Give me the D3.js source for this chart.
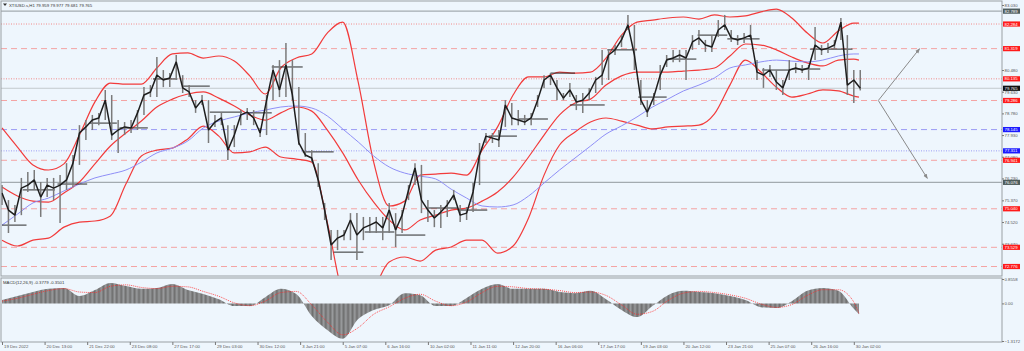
<!DOCTYPE html>
<html>
<head>
<meta charset="utf-8">
<script src="https://d3js.org/d3.v7.min.js"></script>
<style>
  body { margin: 0; background: #eef6fd; }
  text { font-family: "Liberation Sans", "DejaVu Sans", sans-serif; }
</style>
</head>
<body>
<div id="chart"></div>
<script>
// ---------- data (prices) ----------
var title = "XTIUSD.s,H1  79.959 79.977 79.681 79.765";
var macdTitle = "MACD(12,26,9) -0.3779 -0.3501";

// x axis labels, one every 33 hourly bars
var timeLabels = ["19 Dec 2022", "20 Dec 13:00", "21 Dec 22:00", "23 Dec 08:00", "27 Dec 17:00",
  "29 Dec 03:00", "30 Dec 12:00", "3 Jan 21:00", "5 Jan 07:00", "6 Jan 16:00", "10 Jan 02:00",
  "11 Jan 11:00", "12 Jan 20:00", "16 Jan 06:00", "17 Jan 17:00", "19 Jan 03:00", "20 Jan 12:00",
  "23 Jan 21:00", "25 Jan 07:00", "26 Jan 16:00", "30 Jan 02:00"];
var labelEvery = 33;

// price samples, one every 5 hourly bars
var priceStep = 5;
var closes = [75.66, 74.99, 74.79, 75.85, 75.97, 76.17, 75.50, 75.97, 75.85, 75.97,
  76.17, 76.83, 78.01, 78.25, 78.52, 78.60, 79.30, 77.93, 78.13, 78.25,
  78.21, 78.80, 79.50, 79.62, 80.28, 80.09, 80.17, 80.80, 79.78, 79.62,
  78.99, 79.30, 78.13, 78.44, 78.60, 77.34, 77.93, 78.72, 78.83, 78.60,
  78.01, 79.30, 80.48, 79.70, 80.68, 79.50, 77.62, 77.15, 77.03, 76.17,
  74.99, 73.62, 73.89, 74.01, 74.60, 74.01, 74.29, 74.40, 74.52, 74.29,
  74.99, 74.21, 74.79, 75.78, 76.64, 75.38, 74.99, 74.68, 74.91, 75.19,
  75.58, 74.79, 74.87, 75.70, 77.15, 77.89, 77.81, 77.74, 79.11, 78.60,
  78.52, 78.44, 78.60, 79.30, 80.09, 80.28, 79.78, 79.38, 79.70, 79.23,
  79.30, 79.58, 80.09, 80.28, 81.07, 81.27, 81.66, 82.25, 81.07, 79.30,
  78.83, 79.42, 80.28, 80.87, 80.95, 81.07, 80.95, 81.58, 81.74, 81.46,
  81.38, 82.05, 82.25, 81.74, 81.66, 81.74, 81.85, 80.40, 80.28, 80.48,
  80.01, 79.78, 80.48, 80.56, 80.48, 80.56, 81.46, 81.27, 81.34, 81.46,
  82.36, 79.89, 80.09, 79.765];
var highs = [75.97, 75.38, 75.19, 76.25, 76.48, 76.56, 76.09, 76.25, 76.25, 76.36,
  76.83, 77.15, 78.32, 78.52, 78.72, 78.80, 79.70, 79.50, 78.52, 78.44,
  78.52, 78.91, 79.81, 79.89, 80.99, 80.48, 80.36, 81.07, 80.28, 79.89,
  79.30, 79.50, 79.30, 78.72, 78.83, 78.32, 78.32, 78.91, 78.99, 78.91,
  78.21, 79.50, 80.68, 80.87, 81.54, 80.87, 79.81, 78.01, 77.34, 76.83,
  75.27, 74.21, 74.21, 74.21, 74.87, 74.87, 74.72, 74.72, 74.72, 74.72,
  75.27, 74.87, 74.99, 75.97, 76.83, 76.76, 75.38, 74.99, 75.19, 75.38,
  75.78, 75.19, 75.11, 76.05, 77.62, 78.01, 78.01, 78.13, 79.30, 79.19,
  78.91, 78.72, 78.80, 79.50, 80.28, 80.36, 80.09, 79.58, 79.97, 79.50,
  79.58, 79.78, 80.21, 81.27, 81.27, 81.46, 81.85, 82.64, 82.25, 80.09,
  79.30, 79.58, 80.68, 81.07, 81.27, 81.27, 81.27, 81.85, 82.05, 81.66,
  81.85, 82.44, 82.64, 82.05, 81.85, 81.93, 82.25, 80.87, 80.56, 80.68,
  80.48, 80.09, 80.87, 80.76, 80.68, 80.68, 82.17, 81.46, 81.54, 81.66,
  82.52, 81.85, 80.48, 80.48];
var lows = [75.19, 74.09, 74.52, 74.79, 75.70, 75.78, 74.72, 75.50, 75.38, 74.48,
  75.78, 75.89, 76.76, 77.74, 78.13, 78.32, 78.52, 77.74, 77.23, 77.93,
  78.01, 78.13, 78.72, 79.42, 79.42, 79.81, 79.81, 80.09, 79.58, 79.42,
  78.80, 79.11, 77.62, 78.25, 78.32, 76.95, 77.46, 78.32, 78.52, 78.32,
  77.85, 77.93, 79.30, 79.42, 79.42, 79.30, 77.54, 77.07, 76.87, 75.89,
  74.60, 73.03, 73.42, 73.81, 73.81, 73.03, 73.81, 74.09, 74.09, 73.81,
  74.09, 73.54, 74.09, 75.38, 75.97, 74.87, 74.52, 74.32, 74.29, 74.72,
  75.38, 74.52, 74.60, 74.91, 75.97, 77.62, 77.62, 77.46, 78.25, 78.32,
  78.32, 78.32, 78.32, 79.03, 79.78, 79.89, 79.30, 79.30, 79.42, 78.91,
  78.80, 79.30, 79.58, 79.89, 80.09, 81.07, 81.38, 82.05, 80.48, 79.11,
  78.64, 79.11, 79.70, 80.60, 80.79, 80.79, 80.09, 81.27, 81.46, 81.19,
  81.19, 81.78, 82.05, 81.58, 81.46, 81.54, 81.66, 80.09, 79.78, 80.21,
  79.70, 79.50, 80.09, 80.36, 80.36, 80.09, 80.87, 81.07, 81.15, 81.27,
  81.66, 79.50, 79.19, 79.68];

// Bollinger bands and slow MA, one sample every 12 bars, last at bar 664
var bandIdx = d3.range(0, 661, 12).concat([664]);
var upperBand = [78.21, 77.46, 76.76, 76.56, 76.80, 77.93, 79.23, 79.97, 79.93, 79.93,
  80.56, 81.11, 81.15, 80.95, 81.03, 80.83, 80.25, 79.54, 80.56, 80.95,
  81.11, 81.93, 82.36, 80.01, 76.87, 75.15, 75.34, 76.36, 76.40, 76.44,
  76.36, 77.34, 78.25, 79.50, 80.21, 80.21, 80.40, 80.36, 80.40, 80.95,
  81.85, 82.36, 82.44, 82.52, 82.56, 82.48, 82.64, 82.56, 82.60, 82.76,
  82.87, 82.52, 81.93, 81.54, 82.01, 82.32, 82.32];
var middleBand = [75.89, 75.54, 75.34, 75.30, 75.66, 76.09, 76.80, 77.50, 78.01, 78.48,
  79.03, 79.34, 79.54, 79.62, 79.38, 79.07, 78.72, 78.52, 78.80, 79.03,
  78.87, 78.13, 77.23, 76.17, 75.30, 74.60, 74.21, 74.60, 74.79, 74.99,
  75.07, 75.34, 75.70, 76.28, 77.07, 77.93, 78.72, 79.19, 79.34, 79.89,
  80.25, 80.40, 80.40, 80.40, 80.44, 80.48, 80.56, 81.03, 81.50, 81.46,
  81.27, 80.99, 80.76, 80.64, 80.87, 80.91, 80.87];
var lowerBand = [73.81, 73.58, 73.81, 73.89, 74.32, 74.52, 74.56, 74.76, 76.01, 77.11,
  77.34, 77.42, 77.78, 78.28, 77.89, 77.23, 77.27, 77.46, 77.07, 76.99,
  76.87, 74.52, 71.66, 70.68, 71.85, 72.95, 73.15, 72.99, 73.42, 73.54,
  73.81, 73.81, 73.30, 73.58, 74.68, 76.36, 77.54, 78.05, 78.44, 78.60,
  78.48, 78.32, 78.17, 78.25, 78.28, 78.32, 78.76, 79.89, 80.87, 80.40,
  79.81, 79.42, 79.54, 79.70, 79.66, 79.46, 79.42];
var slowMA = [74.40, 74.83, 75.27, 75.46, 75.74, 76.01, 76.25, 76.40, 76.56, 76.87,
  77.23, 77.42, 77.70, 78.21, 78.48, 78.64, 78.80, 78.91, 79.03, 79.07,
  78.99, 78.68, 78.17, 77.66, 77.11, 76.68, 76.44, 76.32, 76.21, 75.81,
  75.46, 75.15, 75.11, 75.19, 75.54, 76.05, 76.56, 77.03, 77.50, 77.97,
  78.29, 78.64, 79.03, 79.34, 79.66, 79.89, 80.17, 80.56, 80.68, 80.80,
  80.87, 80.83, 80.80, 80.87, 81.03, 81.11, 81.11];

// daily level segments: from bar, to bar, price
var levelFrom = [0, 16, 43, 68, 91, 117, 140, 161, 190, 209, 233, 257, 281, 305,
  329, 353, 377, 400, 425, 440, 469, 493, 515, 539, 562, 589, 612, 626];
var levelTo = [19, 41, 66, 89, 113, 136, 161, 186, 209, 233, 257, 280, 304, 328,
  353, 376, 399, 423, 444, 467, 492, 515, 538, 562, 587, 611, 634, 659];
var levelPrice = [74.40, 75.78, 76.01, 78.40, 78.21, 80.13, 79.85, 78.83, 78.80, 80.60,
  77.27, 73.34, 74.13, 74.01, 75.07, 74.99, 77.89, 78.56, 80.36, 79.11,
  81.27, 79.42, 80.91, 81.85, 81.70, 80.48, 80.52, 81.30];

// horizontal lines and their kind
var linePrices = [82.789, 82.284, 81.319, 80.135, 79.765, 79.286, 78.145, 77.311,
  76.941, 76.076, 75.040, 73.529, 72.776];
var lineKinds = ["grey", "redDot", "redDash", "redDot", "price", "redDash", "blueDash",
  "blueDot", "redDash", "grey", "redDash", "redDash", "redDash"];

var priceTicks = [83.030, 80.480, 79.630, 78.780, 77.930, 77.080, 76.230, 75.370, 74.520, 73.670];

// forecast arrows: start bar/price, end bar/price
var arrowFrom = [679, 79.286];
var arrowTo = [[711, 81.319], [717, 76.23]];

// MACD histogram and signal, one sample every 12 bars (same bars as bandIdx)
var macdHist = [0.12, 0.26, 0.40, 0.51, 0.54, 0.26, 0.47, 0.72, 0.61, 0.51,
  0.54, 0.68, 0.47, 0.33, 0.15, -0.09, -0.09, 0.22, 0.51, 0.33,
  -0.44, -0.93, -1.24, -0.55, -0.23, -0.06, 0.36, 0.29, -0.09, -0.09,
  0.19, 0.51, 0.68, 0.51, 0.51, 0.51, 0.40, 0.36, 0.44, 0.15,
  -0.23, -0.48, -0.09, 0.29, 0.44, 0.40, 0.36, 0.26, 0.12, -0.13,
  -0.16, 0.08, 0.44, 0.54, 0.44, -0.19, -0.38];
var macdSignal = [0.08, 0.18, 0.32, 0.45, 0.52, 0.40, 0.38, 0.60, 0.65, 0.56,
  0.52, 0.60, 0.58, 0.42, 0.25, 0.02, -0.08, 0.08, 0.38, 0.42,
  -0.05, -0.65, -1.10, -0.85, -0.38, -0.12, 0.18, 0.32, 0.08, -0.08,
  0.05, 0.38, 0.60, 0.58, 0.52, 0.50, 0.45, 0.38, 0.40, 0.28,
  -0.05, -0.38, -0.28, 0.10, 0.36, 0.42, 0.38, 0.30, 0.18, -0.02,
  -0.14, -0.04, 0.28, 0.48, 0.48, 0.05, -0.35];
var macdTicks = [0.8558, 0.00, -1.3172];

// ---------- layout ----------
var W = 1024, H = 351;
var plotRight = 1002, mainTop = 1, mainBottom = 276, macdTop = 278, macdBottom = 342;

var svg = d3.select("#chart").append("svg").attr("width", W).attr("height", H);
svg.append("rect").attr("width", W).attr("height", H).attr("fill", "#eef6fd");

var x = d3.scaleLinear().domain([0, 660]).range([2, 853.8]);
var y = d3.scaleLinear().domain([72.82, 83.03]).range([265.4, 5]);
var ym = d3.scaleLinear().domain([-1.3172, 0.8558]).range([341, 279]);

var defs = svg.append("defs");
defs.append("clipPath").attr("id", "clipMain").append("rect")
  .attr("x", 1).attr("y", mainTop).attr("width", plotRight - 1).attr("height", mainBottom - mainTop);
defs.append("clipPath").attr("id", "clipMacd").append("rect")
  .attr("x", 1).attr("y", macdTop).attr("width", plotRight - 1).attr("height", macdBottom - macdTop);
defs.append("marker").attr("id", "arrowHead").attr("viewBox", "0 0 10 10")
  .attr("refX", 9).attr("refY", 5).attr("markerWidth", 5).attr("markerHeight", 5)
  .attr("orient", "auto").append("path").attr("d", "M0,1L10,5L0,9Z").attr("fill", "#8a8a8a");
var hatch = defs.append("pattern").attr("id", "hatch").attr("patternUnits", "userSpaceOnUse")
  .attr("width", 1.29).attr("height", 4);
hatch.append("rect").attr("width", 1.29).attr("height", 4).attr("fill", "#b4b8bc");
hatch.append("rect").attr("width", 0.9).attr("height", 4).attr("fill", "#6f6f6f");

var main = svg.append("g").attr("clip-path", "url(#clipMain)");

// horizontal lines
var lineStyle = {
  grey: { stroke: "#a3abb0", width: 1.3, dash: null },
  price: { stroke: "#b9bec2", width: 0.8, dash: null },
  redDot: { stroke: "#f28a8a", width: 1, dash: "1,1.5" },
  redDash: { stroke: "#f4a3a3", width: 1, dash: "6,4" },
  blueDash: { stroke: "#9b9bf5", width: 1, dash: "6,4" },
  blueDot: { stroke: "#9b9bf5", width: 1, dash: "1,1.5" }
};
main.selectAll(".hline").data(linePrices).enter().append("line")
  .attr("x1", 1).attr("x2", plotRight)
  .attr("y1", function (d) { return y(d); })
  .attr("y2", function (d) { return y(d); })
  .attr("stroke", function (d, i) { return lineStyle[lineKinds[i]].stroke; })
  .attr("stroke-width", function (d, i) { return lineStyle[lineKinds[i]].width; })
  .attr("stroke-dasharray", function (d, i) { return lineStyle[lineKinds[i]].dash; });

// bands
var bandLine = d3.line()
  .x(function (d, i) { return x(bandIdx[i]); })
  .y(function (d) { return y(d); })
  .curve(d3.curveMonotoneX);
[upperBand, middleBand, lowerBand].forEach(function (b) {
  main.append("path").attr("d", bandLine(b)).attr("fill", "none")
    .attr("stroke", "#f23b3b").attr("stroke-width", 1.2);
});
main.append("path").attr("d", bandLine(slowMA)).attr("fill", "none")
  .attr("stroke", "#8f8ff7").attr("stroke-width", 1);

// daily levels
main.selectAll(".level").data(levelPrice).enter().append("line")
  .attr("x1", function (d, i) { return x(levelFrom[i]); })
  .attr("x2", function (d, i) { return x(levelTo[i]); })
  .attr("y1", function (d) { return y(d); })
  .attr("y2", function (d) { return y(d); })
  .attr("stroke", "#2b2b2b").attr("stroke-width", 1);

// price bars
main.selectAll(".wick").data(closes).enter().append("line")
  .attr("x1", function (d, i) { return x(i * priceStep); })
  .attr("x2", function (d, i) { return x(i * priceStep); })
  .attr("y1", function (d, i) { return y(highs[i]); })
  .attr("y2", function (d, i) { return y(lows[i]); })
  .attr("stroke", "#7a7a7a").attr("stroke-width", 1.5);
var closeLine = d3.line()
  .x(function (d, i) { return x(i * priceStep); })
  .y(function (d) { return y(d); });
main.append("path").attr("d", closeLine(closes)).attr("fill", "none")
  .attr("stroke", "#1e1e1e").attr("stroke-width", 1.5).attr("stroke-linejoin", "bevel");

// forecast arrows
arrowTo.forEach(function (t) {
  main.append("line")
    .attr("x1", x(arrowFrom[0])).attr("y1", y(arrowFrom[1]))
    .attr("x2", x(t[0])).attr("y2", y(t[1]))
    .attr("stroke", "#8a8a8a").attr("stroke-width", 1)
    .attr("marker-end", "url(#arrowHead)");
});

// panel borders
svg.append("rect").attr("x", 1).attr("y", mainTop).attr("width", plotRight - 1)
  .attr("height", mainBottom - mainTop).attr("fill", "none").attr("stroke", "#9aa0a4");
svg.append("rect").attr("x", 1).attr("y", macdTop).attr("width", plotRight - 1)
  .attr("height", macdBottom - macdTop).attr("fill", "none").attr("stroke", "#9aa0a4");

// price axis
var yAxis = svg.append("g").attr("transform", "translate(" + plotRight + ",0)")
  .call(d3.axisRight(y).tickValues(priceTicks).tickSize(2).tickFormat(d3.format(".3f")));
yAxis.select(".domain").remove();
yAxis.selectAll("text").attr("font-size", 4.3).attr("fill", "#555").attr("x", 2.5);
yAxis.selectAll("line").attr("stroke", "#777");

// coloured price labels
var labelFill = { grey: "#4f5d5d", price: "#111", redDot: "#ff1a1a", redDash: "#ff1a1a",
  blueDash: "#1a1aff", blueDot: "#1a1aff" };
var tags = svg.selectAll(".tag").data(linePrices).enter().append("g")
  .attr("transform", function (d) { return "translate(" + (plotRight + 1) + "," + y(d) + ")"; });
tags.append("rect").attr("x", 0).attr("y", -2.6).attr("width", 17).attr("height", 5.2)
  .attr("fill", function (d, i) { return labelFill[lineKinds[i]]; });
tags.append("text").attr("x", 1.5).attr("y", 1.5).attr("font-size", 4.3).attr("fill", "#fff")
  .text(function (d) { return d3.format(".3f")(d); });

// MACD
var macdG = svg.append("g").attr("clip-path", "url(#clipMacd)");
var hist = d3.area()
  .x(function (d, i) { return x(bandIdx[i]); })
  .y0(ym(0))
  .y1(function (d) { return ym(d); })
  .curve(d3.curveMonotoneX);
macdG.append("path").attr("d", hist(macdHist)).attr("fill", "url(#hatch)");
var sig = d3.line()
  .x(function (d, i) { return x(bandIdx[i]); })
  .y(function (d) { return ym(d); })
  .curve(d3.curveMonotoneX);
macdG.append("path").attr("d", sig(macdSignal)).attr("fill", "none")
  .attr("stroke", "#ff2a2a").attr("stroke-width", 0.8).attr("stroke-dasharray", "1,1");

var mAxis = svg.append("g").attr("transform", "translate(" + plotRight + ",0)")
  .call(d3.axisRight(ym).tickValues(macdTicks).tickSize(2)
    .tickFormat(function (d) { return d === 0 ? "0.00" : d3.format(".4f")(d); }));
mAxis.select(".domain").remove();
mAxis.selectAll("text").attr("font-size", 4.3).attr("fill", "#555").attr("x", 2.5);
mAxis.selectAll("line").attr("stroke", "#777");

// time axis
var xAxis = svg.append("g").attr("transform", "translate(0," + macdBottom + ")")
  .call(d3.axisBottom(x).tickValues(d3.range(timeLabels.length).map(function (i) { return i * labelEvery; }))
    .tickSize(3).tickFormat(function (d, i) { return timeLabels[i]; }));
xAxis.select(".domain").remove();
xAxis.selectAll("line").attr("stroke", "#777");
xAxis.selectAll("text").attr("font-size", 4.3).attr("fill", "#555")
  .attr("text-anchor", "start").attr("x", 1.5).attr("y", 2.5).attr("dy", "0.71em");

// titles
svg.append("text").attr("x", 9).attr("y", 6.5).attr("font-size", 4.3).attr("fill", "#333").text(title);
svg.append("path").attr("d", "M3,3.5L7,3.5L5,6Z").attr("fill", "#333");
svg.append("text").attr("x", 3).attr("y", 283.5).attr("font-size", 4.3).attr("fill", "#333").text(macdTitle);
</script>
</body>
</html>
